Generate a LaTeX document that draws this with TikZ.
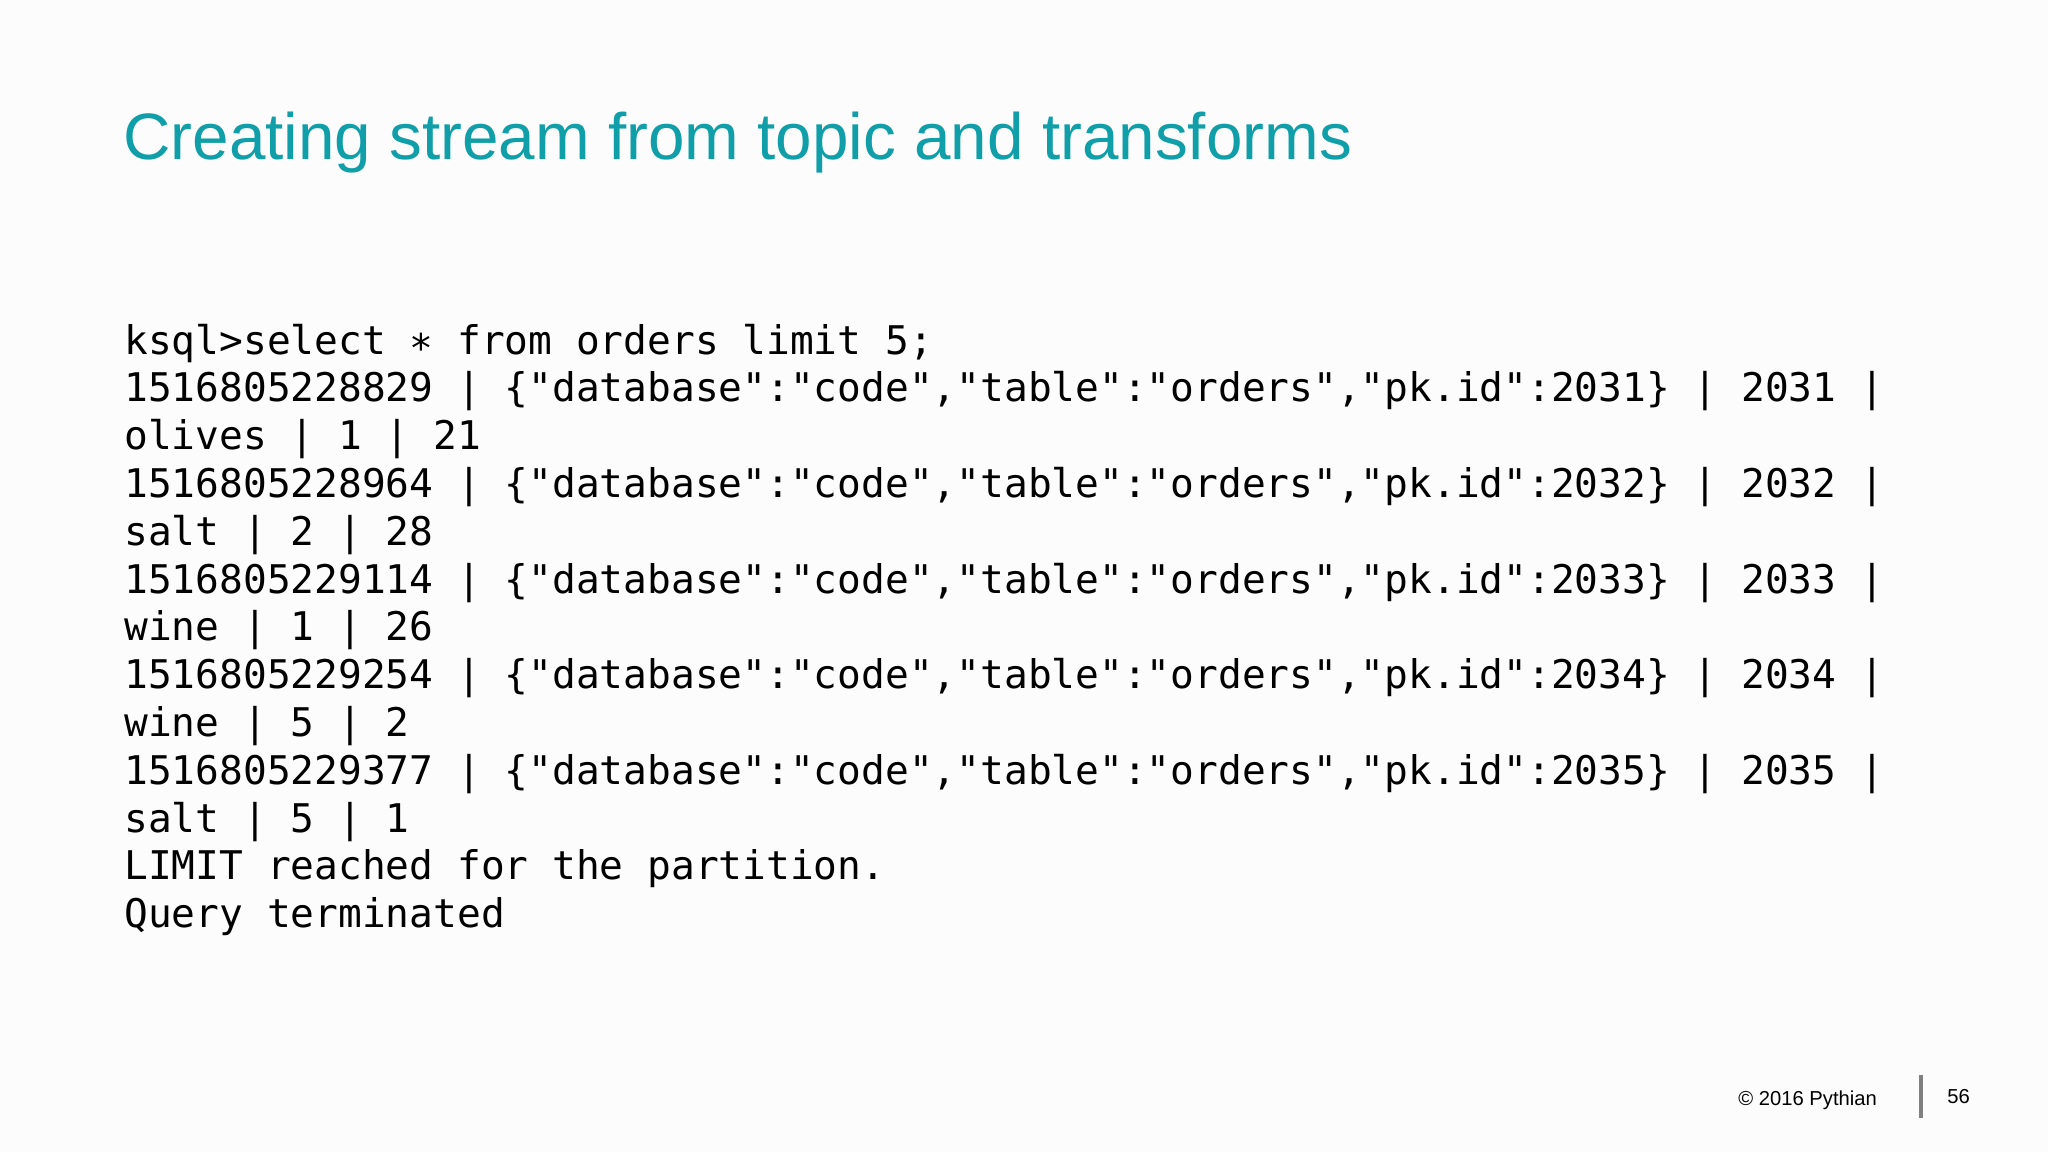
\documentclass[tikz,border=0pt]{standalone}
\usepackage{fontspec}
\setmainfont{Liberation Sans}
\newfontfamily\codefont{DejaVu Sans Mono}
\definecolor{titleteal}{HTML}{109FA9}
\begin{document}
\begin{tikzpicture}[x=0.5pt,y=-0.5pt,
  codeline/.style={anchor=base west,inner sep=0pt,font=\codefont\fontsize{19.75pt}{24pt}\selectfont},
  foot/.style={inner sep=0pt,font=\fontsize{10.1pt}{12pt}\selectfont}]
\fill[white!99!black] (0,0) rectangle (2048,1152);
\useasboundingbox (0,0) rectangle (2048,1152);
\node[anchor=base west,inner sep=0pt,text=titleteal,font=\fontsize{32.8pt}{40pt}\selectfont] (title) at (123,159) {Creating stream from topic and transforms};
\foreach \t [count=\i from 0] in {
 {ksql>select ∗ from orders limit 5;},
 {1516805228829 | \{"database":"code","table":"orders","pk.id":2031\} | 2031 |},
 {olives | 1 | 21},
 {1516805228964 | \{"database":"code","table":"orders","pk.id":2032\} | 2032 |},
 {salt | 2 | 28},
 {1516805229114 | \{"database":"code","table":"orders","pk.id":2033\} | 2033 |},
 {wine | 1 | 26},
 {1516805229254 | \{"database":"code","table":"orders","pk.id":2034\} | 2034 |},
 {wine | 5 | 2},
 {1516805229377 | \{"database":"code","table":"orders","pk.id":2035\} | 2035 |},
 {salt | 5 | 1},
 {LIMIT reached for the partition.},
 {Query terminated}}
 \node[codeline] (l\i) at (124,{354+47.8*\i}) {\t};
\node[foot,anchor=base west] (copy) at (1738,1105) {© 2016 Pythian};
\draw[gray,line width=2] (1921,1075) -- (1921,1118);
\node[foot,anchor=base west] (page) at (1947,1103) {56};
\end{tikzpicture}
\end{document}
